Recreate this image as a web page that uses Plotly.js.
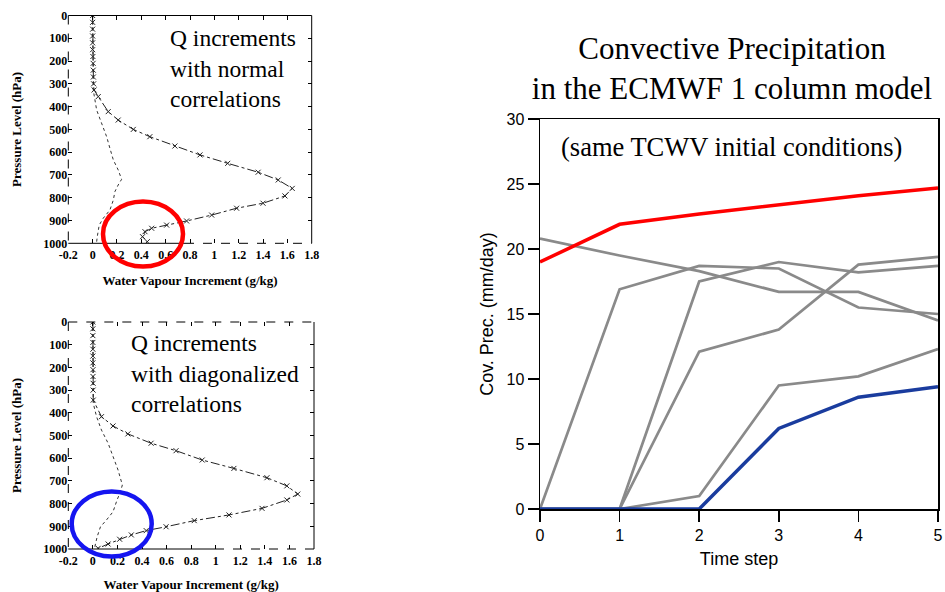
<!DOCTYPE html>
<html>
<head>
<meta charset="utf-8">
<script src="https://cdn.plot.ly/plotly-3.0.1.min.js"></script>
<style>html,body{margin:0;padding:0;background:#fff}#chart{width:945px;height:592px}</style>
</head>
<body>
<div id="chart"></div>
<script>
// ---- Left panels: water vapour increment profiles ----
const xTickVals = [-0.2, 0, 0.2, 0.4, 0.6, 0.8, 1, 1.2, 1.4, 1.6, 1.8];
const xTickText = ["-0.2", "0", "0.2", "0.4", "0.6", "0.8", "1", "1.2", "1.4", "1.6", "1.8"];
const pTickVals = [0, 100, 200, 300, 400, 500, 600, 700, 800, 900, 1000];

// Top: normal correlations
const pTopMain = [0, 30, 60, 90, 120, 150, 180, 210, 240, 270, 300, 327, 356, 422, 459, 500, 532, 573, 612, 649, 688, 722, 759, 792, 824, 846, 876, 902, 920, 934, 949, 971, 993];
const qTopMain = [0, 0, 0, 0, 0, 0, 0.002, 0.004, 0.005, 0.006, 0.008, 0.012, 0.046, 0.128, 0.21, 0.334, 0.47, 0.676, 0.882, 1.11, 1.36, 1.525, 1.64, 1.58, 1.40, 1.183, 0.978, 0.772, 0.608, 0.485, 0.43, 0.41, 0.449];
const pTopSec = [0, 100, 200, 300, 327, 415, 473, 532, 583, 634, 678, 719, 744, 773, 810, 854, 890, 920, 971, 993];
const qTopSec = [0, 0, 0, 0.003, 0.005, 0.033, 0.074, 0.115, 0.142, 0.17, 0.21, 0.238, 0.21, 0.183, 0.17, 0.142, 0.087, 0.054, 0.038, 0.033];

// Bottom: diagonalized correlations
const pBotMain = [0, 30, 60, 90, 120, 150, 180, 210, 240, 270, 300, 344, 417, 458, 493, 534, 567, 608, 645, 686, 722, 758, 784, 821, 850, 875, 902, 919, 938, 957, 978, 997];
const qBotMain = [0, 0, 0, 0, 0, 0, 0, 0.001, 0.001, 0.002, 0.002, 0.003, 0.07, 0.164, 0.285, 0.474, 0.677, 0.89, 1.148, 1.417, 1.579, 1.668, 1.579, 1.377, 1.108, 0.825, 0.596, 0.434, 0.313, 0.218, 0.124, 0.043];
const pBotSec = [0, 100, 200, 300, 358, 417, 476, 534, 593, 652, 718, 748, 784, 836, 872, 902, 946, 990, 1000];
const qBotSec = [0, 0, 0, 0.002, 0.003, 0.03, 0.07, 0.124, 0.164, 0.205, 0.24, 0.224, 0.197, 0.164, 0.111, 0.062, 0.035, 0.016, 0.003];

// ---- Right panel: convective precipitation ----
const timeSteps = [0, 1, 2, 3, 4, 5];
const precRed = [19.0, 21.9, 22.7, 23.4, 24.1, 24.7];
const precBlue = [0, 0, 0, 6.2, 8.6, 9.4];
const precGrey = [
  [20.8, 19.5, 18.3, 16.7, 16.7, 14.5],
  [0, 16.9, 18.7, 18.5, 15.5, 15.0],
  [0, 0, 17.5, 19.0, 18.2, 18.7],
  [0, 0, 12.1, 13.8, 18.8, 19.4],
  [0, 0, 1.0, 9.5, 10.2, 12.3]
];
const yTickVals = [0, 5, 10, 15, 20, 25, 30];

const SERIF = "Liberation Serif, Times New Roman, serif";
const serifBold = {family: SERIF, size: 12, color: "#000", weight: "bold"};
const serifTitle = {family: SERIF, size: 13, color: "#000", weight: "bold"};

function mainTrace(x, y, xa, ya) {
  return {x: x, y: y, xaxis: xa, yaxis: ya, type: "scatter", mode: "lines+markers",
    line: {color: "#222", width: 1, dash: "dashdot"},
    marker: {symbol: "x-thin", size: 5, line: {color: "#222", width: 1}},
    showlegend: false, hoverinfo: "skip"};
}
function secTrace(x, y, xa, ya) {
  return {x: x, y: y, xaxis: xa, yaxis: ya, type: "scatter", mode: "lines",
    line: {color: "#333", width: 1, dash: "dot"}, showlegend: false, hoverinfo: "skip"};
}

const traces = [
  secTrace(qTopSec, pTopSec, "x", "y"),
  mainTrace(qTopMain, pTopMain, "x", "y"),
  secTrace(qBotSec, pBotSec, "x2", "y2"),
  mainTrace(qBotMain, pBotMain, "x2", "y2")
];
precGrey.forEach(function (g) {
  traces.push({x: timeSteps, y: g, xaxis: "x3", yaxis: "y3", type: "scatter", mode: "lines",
    line: {color: "#8a8a8a", width: 2.7}, showlegend: false, hoverinfo: "skip"});
});
traces.push({x: timeSteps, y: precRed, xaxis: "x3", yaxis: "y3", type: "scatter", mode: "lines",
  line: {color: "#ff0000", width: 3.5}, showlegend: false, hoverinfo: "skip"});
traces.push({x: timeSteps, y: precBlue, xaxis: "x3", yaxis: "y3", type: "scatter", mode: "lines",
  line: {color: "#1a3c9e", width: 3.5}, showlegend: false, hoverinfo: "skip"});

function leftX(domain, anchor) {
  return {domain: domain, anchor: anchor, range: [-0.2, 1.8], tickmode: "array",
    tickvals: xTickVals, ticktext: xTickText, ticks: "inside", ticklen: 4, tickcolor: "#000",
    ticklabelstandoff: 3,
    mirror: "ticks", showline: false, showgrid: false, zeroline: false, tickfont: serifBold,
    title: {text: "Water Vapour Increment (g/kg)", font: serifTitle, standoff: 14}};
}
function leftY(domain, anchor) {
  return {domain: domain, anchor: anchor, range: [1000, 0], tickmode: "array",
    tickvals: pTickVals, ticks: "inside", ticklen: 4, tickcolor: "#000",
    mirror: "ticks", showline: false, showgrid: false, zeroline: false, tickfont: serifBold,
    title: {text: "Pressure Level (hPa)", font: serifTitle, standoff: 18}};
}

const sansTick = {family: "Liberation Sans, Arial, sans-serif", size: 16, color: "#000"};
const sansTitle = {family: "Liberation Sans, Arial, sans-serif", size: 18, color: "#000"};

// frame helpers (paper pixel coords)
const W = 945, H = 592;
function px(x) { return x / W; }
function py(y) { return (H - y) / H; }
function seg(x0, y0, x1, y1, dash) {
  return {type: "line", xref: "paper", yref: "paper", x0: px(x0), y0: py(y0), x1: px(x1), y1: py(y1),
    line: {color: "#000", width: 1, dash: dash}, layer: "above"};
}
function ellipse(cx, cy, rx, ry, color) {
  return {type: "circle", xref: "paper", yref: "paper", x0: px(cx - rx), x1: px(cx + rx),
    y0: py(cy + ry), y1: py(cy - ry), line: {color: color, width: 4.5}, layer: "above"};
}

const topBox = {l: 68.3, r: 311.7, t: 15.5, b: 243.3};
const botBox = {l: 68.3, r: 314, t: 322, b: 549};

const layout = {
  width: W, height: H,
  margin: {l: 0, r: 0, t: 0, b: 0},
  paper_bgcolor: "#fff", plot_bgcolor: "#fff",
  showlegend: false,
  title: {text: "Convective Precipitation<br>in the ECMWF 1 column model",
    font: {family: SERIF, size: 31, color: "#000"},
    xref: "paper", yref: "paper", x: 732 / W, xanchor: "center", y: py(59), yanchor: "middle"},
  xaxis: leftX([topBox.l / W, topBox.r / W], "y"),
  yaxis: leftY([py(topBox.b), py(topBox.t)], "x"),
  xaxis2: leftX([botBox.l / W, botBox.r / W], "y2"),
  yaxis2: leftY([py(botBox.b), py(botBox.t)], "x2"),
  xaxis3: {domain: [540 / W, 938 / W], anchor: "y3", range: [0, 5], dtick: 1, tick0: 0,
    ticks: "outside", ticklen: 11, tickwidth: 1.5, tickcolor: "#000",
    showline: true, linewidth: 1.5, linecolor: "#000", mirror: true,
    showgrid: false, zeroline: false, tickfont: sansTick,
    title: {text: "Time step", font: sansTitle, standoff: 9}},
  yaxis3: {domain: [py(509), py(119)], anchor: "x3", range: [0, 30], tickmode: "array", tickvals: yTickVals,
    ticks: "outside", ticklen: 11, tickwidth: 1.5, tickcolor: "#000",
    showline: true, linewidth: 1.5, linecolor: "#000", mirror: true,
    showgrid: false, zeroline: false, tickfont: sansTick,
    title: {text: "Cov. Prec. (mm/day)", font: sansTitle, standoff: 8}},
  annotations: [
    {xref: "paper", yref: "paper", x: px(168), y: py(68.5), xanchor: "left", yanchor: "middle", align: "left",
      showarrow: false, text: "Q increments<br>with normal<br>correlations",
      font: {family: SERIF, size: 23.5, color: "#000"}},
    {xref: "paper", yref: "paper", x: px(129), y: py(373), xanchor: "left", yanchor: "middle", align: "left",
      showarrow: false, text: "Q increments<br>with diagonalized<br>correlations",
      font: {family: SERIF, size: 23.5, color: "#000"}},
    {xref: "paper", yref: "paper", x: px(731), y: py(147), xanchor: "center", yanchor: "middle",
      showarrow: false, text: "(same TCWV initial conditions)",
      font: {family: SERIF, size: 26.5, color: "#000"}}
  ],
  shapes: [
    seg(topBox.l, topBox.t, topBox.l, topBox.b, "dash"),
    seg(topBox.l, topBox.t, topBox.r, topBox.t, "solid"),
    seg(topBox.r, topBox.t, topBox.r, topBox.b, "solid"),
    seg(topBox.l, topBox.b, 185, topBox.b, "solid"),
    seg(185, topBox.b, topBox.r, topBox.b, "dash"),
    seg(botBox.l, botBox.t, botBox.l, botBox.b, "dash"),
    seg(botBox.l, botBox.t, botBox.r, botBox.t, "dash"),
    seg(botBox.r, botBox.t, botBox.r, botBox.b, "solid"),
    seg(botBox.l, botBox.b, 215, botBox.b, "solid"),
    seg(215, botBox.b, botBox.r, botBox.b, "dash"),
    ellipse(143, 234, 40, 32.5, "#ff0000"),
    ellipse(111.7, 524, 40, 32.5, "#1515f0")
  ]
};

Plotly.newPlot("chart", traces, layout, {displayModeBar: false, staticPlot: true});
</script>
</body>
</html>
